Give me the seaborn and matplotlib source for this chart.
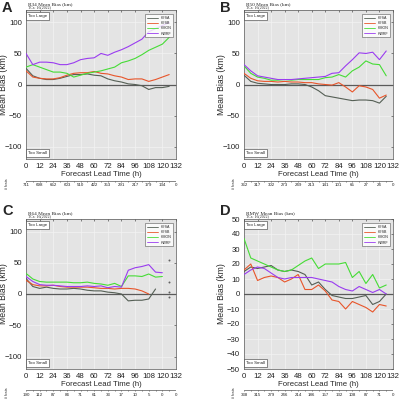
import numpy as np
import pandas as pd
import matplotlib
matplotlib.use("Agg")
import matplotlib.pyplot as plt
import seaborn as sns

# ---------------- data ----------------
hours = [0, 6, 12, 18, 24, 30, 36, 42, 48, 54, 60, 66, 72, 78, 84, 90, 96, 102, 108, 114, 120, 126]
models = ["HFSA", "HFSB", "HMON", "HWRF"]
colors = {"HFSA": "#555f55", "HFSB": "#e8552a", "HMON": "#46dc36", "HWRF": "#9a3cf0"}
nan = np.nan

# Panel A: R34
a_hfsa = [26, 14, 10, 8, 8, 10, 13, 16, 16, 17, 15, 14, 9, 6, 4, 1, 0, -2, -8, -5, -5, -3]
a_hfsb = [22, 12, 10, 9, 9, 11, 15, 18, 19, 19, 21, 18, 17, 14, 12, 8, 9, 9, 5, 8, 12, 16]
a_hmon = [28, 32, 28, 24, 20, 20, 18, 12, 15, 18, 20, 22, 25, 28, 35, 38, 42, 48, 55, 60, 65, 76]
a_hwrf = [50, 32, 36, 36, 35, 32, 32, 35, 40, 42, 43, 50, 47, 52, 56, 61, 67, 73, 85, 90, 95, 100]
counts_a = [711, 698, 652, 603, 510, 422, 353, 291, 217, 179, 134, 0]

# Panel B: R50
b_hfsa = [15, 5, 2, 1, 0, 0, 0, 1, 1, 0, -4, -10, -18, -20, -22, -24, -26, -25, -25, -26, -30, -19]
b_hfsb = [18, 10, 6, 5, 5, 4, 5, 4, 4, 3, 3, 1, 0, -1, 3, -4, -12, -2, -4, -8, -22, -17]
b_hmon = [30, 18, 12, 10, 7, 7, 8, 7, 8, 8, 8, 8, 11, 12, 16, 12, 22, 28, 38, 33, 32, 14]
b_hwrf = [32, 22, 14, 12, 10, 8, 8, 8, 9, 10, 11, 12, 13, 18, 19, 30, 40, 51, 50, 52, 40, 54]
counts_b = [362, 317, 302, 273, 249, 213, 141, 101, 65, 27, 24, 0]

# Panel C: R64
c_hfsa = [25, 12, 9, 11, 9, 8, 8, 9, 8, 6, 5, 5, 3, 2, 0, -11, -10, -10, -8, 8, nan, nan]
c_hfsb = [22, 15, 13, 13, 14, 12, 11, 11, 11, 11, 10, 9, 9, 8, 9, 9, 8, 5, 0, nan, nan, nan]
c_hmon = [33, 24, 20, 19, 19, 19, 19, 18, 18, 19, 17, 16, 14, 17, 12, 29, 29, 28, 32, 27, 28, nan]
c_hwrf = [28, 20, 15, 14, 14, 13, 12, 12, 12, 13, 12, 13, 10, 12, 11, 38, 42, 44, 47, 35, 34, nan]
c_extra_hours = [126, 126, 126, 126]
c_extra_vals = [55, 19, 4, -4]
counts_c = [190, 112, 87, 84, 71, 61, 33, 17, 10, 5, 0, 0]

# Panel D: RMW
d_hfsa = [15, 18, 17, 18, 19, 16, 15, 16, 15, 13, 6, 8, 3, -1, -2, -3, -3, -2, -1, -7, -5, 0]
d_hfsb = [16, 20, 9, 11, 12, 11, 8, 10, 13, 3, 3, 6, 2, -4, -5, -10, -5, -7, -9, -12, -7, -8]
d_hmon = [37, 24, 22, 20, 18, 16, 15, 16, 19, 22, 24, 17, 20, 20, 20, 21, 11, 15, 7, 13, 4, 6]
d_hwrf = [13, 16, 18, 17, 14, 11, 10, 11, 11, 11, 11, 10, 9, 8, 5, 3, 2, 5, 3, 1, 3, 0]
counts_d = [338, 315, 279, 246, 214, 186, 157, 132, 108, 87, 71, 0]

count_hours = [0, 12, 24, 36, 48, 60, 72, 84, 96, 108, 120, 132]

titles = ["R34 Mean Bias (km)", "R50 Mean Bias (km)", "R64 Mean Bias (km)", "RMW Mean Bias (km)"]
subtitle = "TCs: 16(2022)"
letters = ["A", "B", "C", "D"]


def make_df(series):
    rows = []
    for m, vals in zip(models, series):
        for h, v in zip(hours, vals):
            if not np.isnan(v):
                rows.append({"model": m, "hour": h, "bias": v})
    return pd.DataFrame(rows)


panels = [
    (make_df([a_hfsa, a_hfsb, a_hmon, a_hwrf]), counts_a),
    (make_df([b_hfsa, b_hfsb, b_hmon, b_hwrf]), counts_b),
    (make_df([c_hfsa, c_hfsb, c_hmon, c_hwrf]), counts_c),
    (make_df([d_hfsa, d_hfsb, d_hmon, d_hwrf]), counts_d),
]

# ---------------- figure ----------------
sns.set_theme(style="white")
plt.rcParams["font.family"] = ["Liberation Sans", "DejaVu Sans"]

W, H = 399, 400
fig = plt.figure(figsize=(W / 100, H / 100), dpi=100)
fig.patch.set_facecolor("white")

# pixel boxes: (left, top, right, bottom)
boxes = [(26, 10, 176, 159), (244, 10, 393, 159), (26, 219, 176, 369), (244, 219, 393, 369)]
count_line_px = [181, 181, 390, 390]
fcst_label_x = [7, 234, 7, 234]


def frac(l, t, r, b):
    return [l / W, (H - b) / H, (r - l) / W, (b - t) / H]


for i, ((df, counts), box) in enumerate(zip(panels, boxes)):
    l, t, r, b = box
    ax = fig.add_axes(frac(l, t, r, b))
    ax.set_facecolor("#e4e4e4")
    ax.axhline(0, color="#5a5a5a", lw=0.9, zorder=1)
    sns.lineplot(data=df, x="hour", y="bias", hue="model", palette=colors,
                 hue_order=models, estimator=None, lw=0.8, ax=ax, zorder=3)
    if i == 2:
        sns.scatterplot(x=c_extra_hours, y=c_extra_vals, color="#606060", s=2,
                        linewidth=0, ax=ax, zorder=4, legend=False)
    ax.set_xlim(0, 132)
    ax.set_xticks(count_hours)
    if i < 3:
        ax.set_ylim(-120, 120)
        ax.set_yticks([-100, -50, 0, 50, 100])
    else:
        ax.set_ylim(-50, 50)
        ax.set_yticks(list(range(-50, 51, 10)))
    ax.grid(True, color="#f4f4f4", lw=0.45)
    ax.tick_params(axis="both", labelsize=5.6, direction="in", length=1.5,
                   width=0.4, pad=2.8, top=True, right=True, colors="#222222")
    for s in ax.spines.values():
        s.set_color("#555555")
        s.set_linewidth(0.5)
    ax.set_xlabel("Forecast Lead Time (h)", fontsize=5.6, labelpad=1)
    ax.set_ylabel("Mean Bias (km)", fontsize=6.2)
    ax.yaxis.set_label_coords(-0.118, 0.5)
    leg = ax.legend(loc="upper right", fontsize=2.6, frameon=True, handlelength=3,
                    borderpad=0.5, labelspacing=0.35, fancybox=False,
                    bbox_to_anchor=(0.995, 0.985))
    leg.get_frame().set_edgecolor("#333333")
    leg.get_frame().set_linewidth(0.4)
    for ln in leg.get_lines():
        ln.set_linewidth(0.6)
    ax.text(0.012, 0.975, "Too Large", transform=ax.transAxes, fontsize=3.2,
            va="top", ha="left",
            bbox=dict(boxstyle="square,pad=0.5", fc="white", ec="#333333", lw=0.4))
    ax.text(0.012, 0.025, "Too Small", transform=ax.transAxes, fontsize=3.2,
            va="bottom", ha="left",
            bbox=dict(boxstyle="square,pad=0.5", fc="white", ec="#333333", lw=0.4))
    fig.text((l + 2) / W, (H - (t - 5.2)) / H, titles[i], fontsize=3.8,
             family=["Liberation Serif"], va="baseline", ha="left", color="#222222")
    fig.text((l + 2) / W, (H - (t - 1.6)) / H, subtitle, fontsize=2.8,
             family=["Liberation Serif"], va="baseline", ha="left", color="#222222")
    fig.text((l - 24) / W, (H - max(1, t - 15)) / H, letters[i], fontsize=10.5,
             fontweight="bold", ha="left", va="top")

    # count row
    cl = count_line_px[i]
    axc = fig.add_axes([l / W, (H - (cl + 8)) / H, (r - l) / W, 10 / H])
    axc.set_xlim(0, 132)
    axc.set_ylim(0, 1)
    axc.axis("off")
    axc.axhline(0.8, color="#555555", lw=0.5)
    for h in range(0, 133, 6):
        axc.plot([h, h], [0.8, 0.68], color="#555555", lw=0.4)
    for h, c in zip(count_hours, counts):
        axc.text(h, 0.35, str(c), fontsize=3.2, ha="center", va="center",
                 color="#222222")
    fig.text(fcst_label_x[i] / W, (H - (cl + 3)) / H, "# fcsts", rotation=90,
             fontsize=2.6, ha="center", va="center", color="#222222")

fig.savefig("out.png", dpi=100, facecolor="white")
